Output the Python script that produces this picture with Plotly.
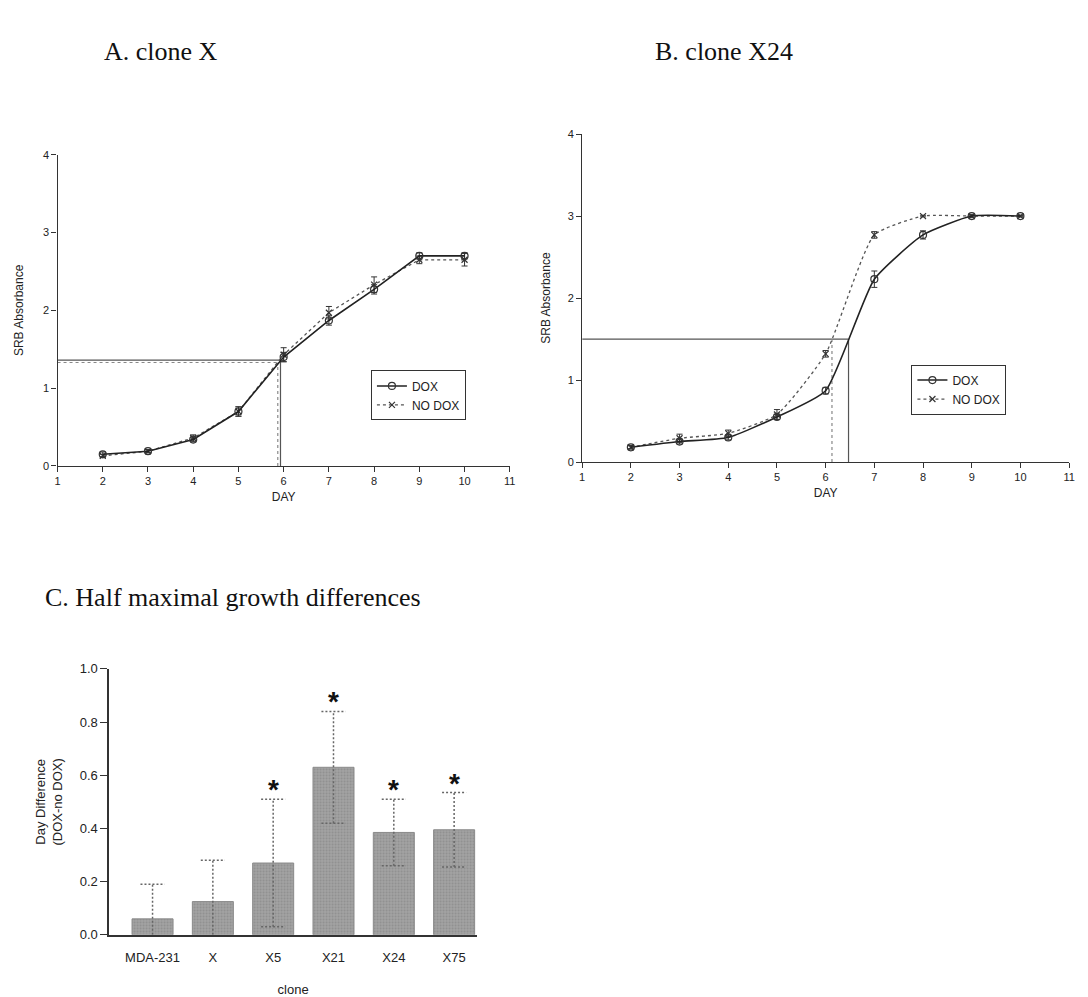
import plotly.graph_objects as go

# ---------------- data ----------------
days = [2, 3, 4, 5, 6, 7, 8, 9, 10]

a_dox = [0.15, 0.19, 0.34, 0.70, 1.40, 1.87, 2.27, 2.70, 2.70]
a_dox_err = [0.03, 0.02, 0.03, 0.06, 0.06, 0.06, 0.06, 0.04, 0.04]
a_nodox = [0.13, 0.19, 0.36, 0.70, 1.43, 1.97, 2.33, 2.65, 2.65]
a_nodox_err = [0.02, 0.02, 0.04, 0.06, 0.09, 0.08, 0.10, 0.05, 0.08]

b_dox = [0.18, 0.25, 0.30, 0.55, 0.87, 2.23, 2.77, 3.00, 3.00]
b_dox_err = [0.02, 0.03, 0.03, 0.03, 0.04, 0.10, 0.05, 0.02, 0.01]
b_nodox = [0.18, 0.29, 0.35, 0.58, 1.32, 2.77, 3.00, 3.00, 3.00]
b_nodox_err = [0.02, 0.05, 0.04, 0.06, 0.04, 0.04, 0.01, 0.01, 0.01]

# half-maximal reference lines
a_half_dox, a_day_dox = 1.36, 5.93
a_half_nodox, a_day_nodox = 1.33, 5.87
b_half, b_day_dox, b_day_nodox = 1.50, 6.47, 6.13

clones = ["MDA-231", "X", "X5", "X21", "X24", "X75"]
diff = [0.06, 0.125, 0.27, 0.63, 0.385, 0.395]
diff_err_plus = [0.13, 0.155, 0.24, 0.21, 0.125, 0.14]
diff_err_minus = [0.06, 0.125, 0.24, 0.21, 0.125, 0.14]
significant = [False, False, True, True, True, True]

# ---------------- figure ----------------
W, H = 1088, 997
def px(x):
    return x / W
def py(y):
    return 1 - y / H

FONT = "Liberation Sans, Arial, sans-serif"
SERIF = "Liberation Serif, Times New Roman, serif"

fig = go.Figure()

def growth_traces(xa, ya, dox, dox_err, nodox, nodox_err, legend, shape):
    fig.add_trace(go.Scatter(
        x=days, y=nodox, xaxis=xa, yaxis=ya, name="NO DOX", legend=legend,
        mode="lines+markers",
        line=dict(color="#555555", width=1.3, dash="dot", shape=shape, smoothing=0.5),
        marker=dict(symbol="x-thin-open", size=6, color="#333333",
                    line=dict(width=1.2, color="#333333")),
        error_y=dict(type="data", array=nodox_err, color="#333333", thickness=1, width=3),
    ))
    fig.add_trace(go.Scatter(
        x=days, y=dox, xaxis=xa, yaxis=ya, name="DOX", legend=legend,
        mode="lines+markers",
        line=dict(color="#222222", width=1.6, shape=shape, smoothing=0.5),
        marker=dict(symbol="circle-open", size=7, color="#333333",
                    line=dict(width=1.2, color="#333333")),
        error_y=dict(type="data", array=dox_err, color="#333333", thickness=1, width=3),
    ))

growth_traces("x", "y", a_dox, a_dox_err, a_nodox, a_nodox_err, "legend", "linear")
growth_traces("x2", "y2", b_dox, b_dox_err, b_nodox, b_nodox_err, "legend2", "spline")

# bar chart
fig.add_trace(go.Bar(
    x=clones, y=diff, xaxis="x3", yaxis="y3", showlegend=False,
    width=0.68,
    marker=dict(color="#a3a3a3", line=dict(color="#8a8a8a", width=1),
                pattern=dict(shape=".", fgcolor="#7a7a7a", size=3, solidity=0.35)),
))

# dotted error bars for the bar chart (computed from the data arrays)
edash = "2px,2px"
for i, (v, ep, em) in enumerate(zip(diff, diff_err_plus, diff_err_minus)):
    lo, hi = v - em, v + ep
    fig.add_shape(type="line", xref="x3", yref="y3", x0=i, x1=i, y0=lo, y1=hi,
                  line=dict(color="#666666", width=1.5, dash=edash))
    fig.add_shape(type="line", xref="x3", yref="y3", x0=i - 0.2, x1=i + 0.2, y0=hi, y1=hi,
                  line=dict(color="#666666", width=1.5, dash=edash))
    if lo > 0.001:
        fig.add_shape(type="line", xref="x3", yref="y3", x0=i - 0.2, x1=i + 0.2, y0=lo, y1=lo,
                      line=dict(color="#666666", width=1.5, dash=edash))

# reference lines
ref = [
    ("x", "y", 1, a_half_dox, a_day_dox, a_half_dox, "solid", "#555555"),
    ("x", "y", a_day_dox, 0, a_day_dox, a_half_dox, "solid", "#555555"),
    ("x", "y", 1, a_half_nodox, a_day_nodox, a_half_nodox, "dot", "#888888"),
    ("x", "y", a_day_nodox, 0, a_day_nodox, a_half_nodox, "dot", "#888888"),
    ("x2", "y2", 1, b_half, b_day_dox, b_half, "solid", "#555555"),
    ("x2", "y2", b_day_dox, 0, b_day_dox, b_half, "solid", "#555555"),
    ("x2", "y2", b_day_nodox, 0, b_day_nodox, b_half, "dot", "#888888"),
]
for xr, yr, x0, y0, x1, y1, dash, col in ref:
    fig.add_shape(type="line", xref=xr, yref=yr, x0=x0, y0=y0, x1=x1, y1=y1,
                  line=dict(color=col, width=1.2, dash=dash), layer="below")

# asterisks
for c, v, e, s in zip(clones, diff, diff_err_plus, significant):
    if s:
        fig.add_annotation(x=c, y=v + e, xref="x3", yref="y3", text="<b>*</b>",
                           showarrow=False, yanchor="bottom", yshift=-8,
                           font=dict(size=28, color="#111111", family=FONT))

# titles
titles = [("A. clone X", 100, 45), ("B. clone X24", 655, 45),
          ("C. Half maximal growth differences", 40, 600)]
for t, x, y in titles:
    fig.add_annotation(text=t, x=px(x), y=py(y), xref="paper", yref="paper",
                       xanchor="left", yanchor="middle", showarrow=False,
                       font=dict(family=SERIF, size=26, color="#111111"))

axis_common = dict(showline=True, linecolor="#333333", linewidth=1.2,
                   ticks="outside", ticklen=5, tickcolor="#333333",
                   showgrid=False, zeroline=False,
                   tickfont=dict(family=FONT, size=11, color="#222222"))

tfont = dict(family=FONT, size=12, color="#222222")
cfont = dict(family=FONT, size=13, color="#222222")

fig.update_layout(
    width=W, height=H, margin=dict(l=0, r=0, t=0, b=0),
    paper_bgcolor="white", plot_bgcolor="white",
    xaxis=dict(domain=[px(55), px(511)], range=[1, 11], anchor="y", dtick=1,
               title=dict(text="DAY", font=tfont, standoff=6), **axis_common),
    yaxis=dict(domain=[py(466), py(150)], range=[0, 4], anchor="x", dtick=1,
               title=dict(text="SRB Absorbance", font=tfont, standoff=16), **axis_common),
    xaxis2=dict(domain=[px(584), px(1075)], range=[1, 11], anchor="y2", dtick=1,
                title=dict(text="DAY", font=tfont, standoff=6), **axis_common),
    yaxis2=dict(domain=[py(462), py(129)], range=[0, 4], anchor="x2", dtick=1,
                title=dict(text="SRB Absorbance", font=tfont, standoff=14), **axis_common),
    xaxis3=dict(domain=[px(107), px(478)], range=[-0.72, 5.38], anchor="y3",
                showline=True, linecolor="#333333", linewidth=1.5, ticks="",
                ticklabelstandoff=10,
                showgrid=False, zeroline=False, tickfont=cfont,
                title=dict(text="clone", font=cfont, standoff=22)),
    yaxis3=dict(domain=[py(942), py(672)], range=[0, 1.0], anchor="x3", dtick=0.2,
                tickformat=".1f", showline=True, linecolor="#333333", linewidth=1.5,
                ticks="outside", ticklen=7, tickcolor="#333333",
                showgrid=False, zeroline=False, tickfont=cfont,
                title=dict(text="Day Difference<br>(DOX-no DOX)",
                           font=cfont, standoff=14)),
    legend=dict(x=px(371), y=py(369), xanchor="left", yanchor="top",
                bordercolor="#333333", borderwidth=1, bgcolor="white",
                traceorder="reversed", itemwidth=30,
                font=dict(family=FONT, size=12, color="#222222")),
    legend2=dict(x=px(916), y=py(363), xanchor="left", yanchor="top",
                 bordercolor="#333333", borderwidth=1, bgcolor="white",
                 traceorder="reversed", itemwidth=30,
                 font=dict(family=FONT, size=12, color="#222222")),
)

fig.write_html("out.html")
